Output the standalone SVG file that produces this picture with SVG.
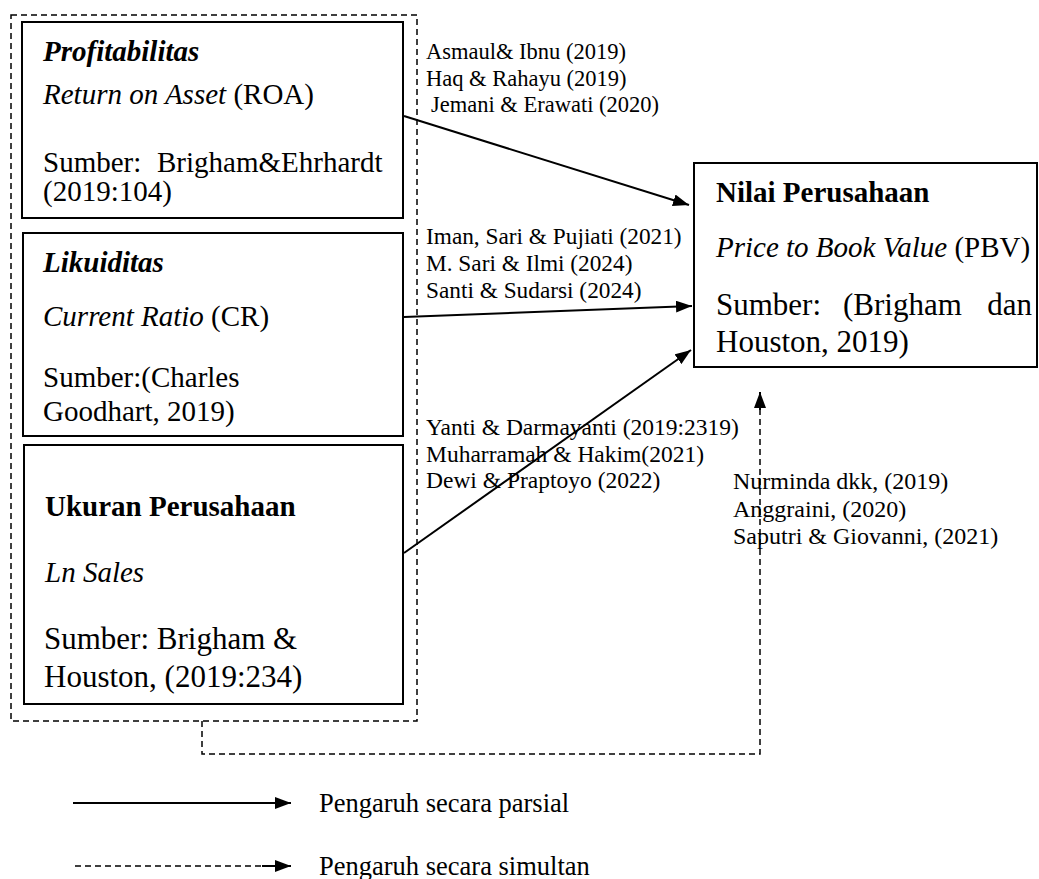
<svg xmlns="http://www.w3.org/2000/svg" width="1039" height="879" viewBox="0 0 1039 879">
<style>
.box{fill:#fff;stroke:#000;stroke-width:2}
.dash{fill:none;stroke:#000;stroke-width:1.5;stroke-dasharray:6 4}
.line{fill:none;stroke:#000;stroke-width:2}
text{font-family:"Liberation Serif","Times New Roman",serif;fill:#000}
.t{font-size:29px}
.s{font-size:31px}
.c1{font-size:22.5px}
.c2{font-size:23.3px}
.c3{font-size:23.5px}
.c4{font-size:24px}
.lg{font-size:26.5px}
.b{font-weight:bold}
.i{font-style:italic}
</style>
<defs>
<marker id="ahl" markerWidth="16" markerHeight="12" refX="16" refY="6" orient="auto" markerUnits="userSpaceOnUse">
<path d="M0,0 L16,6 L0,12 Z" fill="#000"/>
</marker>
</defs>
<rect width="1039" height="879" fill="#fff"/>
<g id="independent-group">
<rect class="dash" x="11" y="15" width="406" height="706"/>
</g>
<g id="profitabilitas">
<rect class="box" x="22" y="22" width="381" height="196"/>
<text class="t b i" x="43" y="61">Profitabilitas</text>
<text class="t" x="43" y="104"><tspan class="i">Return on Asset</tspan> (ROA)</text>
<text class="t" x="43" y="172">Sumber:<tspan x="157">Brigham&amp;Ehrhardt</tspan></text>
<text class="t" x="43" y="201">(2019:104)</text>
</g>
<g id="likuiditas">
<rect class="box" x="23" y="233" width="380" height="203"/>
<text class="t b i" x="43" y="272">Likuiditas</text>
<text class="t" x="43" y="326"><tspan class="i">Current Ratio</tspan> (CR)</text>
<text class="t" x="43" y="387">Sumber:(Charles</text>
<text class="t" x="43" y="421">Goodhart, 2019)</text>
</g>
<g id="ukuran">
<rect class="box" x="24" y="445" width="379" height="259"/>
<text class="t b" x="45" y="516">Ukuran Perusahaan</text>
<text class="t i" x="45" y="582">Ln Sales</text>
<text class="s" x="44" y="649">Sumber: Brigham &amp;</text>
<text class="s" x="44" y="687">Houston, (2019:234)</text>
</g>
<g id="nilai">
<rect class="box" x="694" y="163" width="343" height="204"/>
<text class="t b" x="716" y="202">Nilai Perusahaan</text>
<text class="t" x="716" y="257"><tspan class="i">Price to Book Value</tspan> (PBV)</text>
<text class="s" x="716" y="315">Sumber:</text>
<text class="s" x="843" y="315">(Brigham</text>
<text class="s" x="1032" y="315" text-anchor="end">dan</text>
<text class="s" x="716" y="352">Houston, 2019)</text>
</g>
<g id="connectors">
<line class="line" x1="404" y1="116" x2="689" y2="205" marker-end="url(#ahl)"/>
<line class="line" x1="404" y1="317" x2="692" y2="306" marker-end="url(#ahl)"/>
<line class="line" x1="404" y1="553" x2="691" y2="350" marker-end="url(#ahl)"/>
<path class="dash" d="M202,721 V754 H760 V400"/>
<line class="line" x1="760" y1="410" x2="760" y2="392" marker-end="url(#ahl)"/>
</g>
<g id="citations">
<text class="c1" x="426" y="59">Asmaul&amp; Ibnu (2019)</text>
<text class="c1" x="426" y="86">Haq &amp; Rahayu (2019)</text>
<text class="c1" x="431" y="112">Jemani &amp; Erawati (2020)</text>
<text class="c2" x="426" y="244">Iman, Sari &amp; Pujiati (2021)</text>
<text class="c2" x="426" y="271">M. Sari &amp; Ilmi (2024)</text>
<text class="c2" x="426" y="298">Santi &amp; Sudarsi (2024)</text>
<text class="c3" x="426" y="435">Yanti &amp; Darmayanti (2019:2319)</text>
<text class="c3" x="426" y="462">Muharramah &amp; Hakim(2021)</text>
<text class="c3" x="426" y="488">Dewi &amp; Praptoyo (2022)</text>
<text class="c4" x="733" y="489">Nurminda dkk, (2019)</text>
<text class="c4" x="733" y="517">Anggraini, (2020)</text>
<text class="c4" x="733" y="544">Saputri &amp; Giovanni, (2021)</text>
</g>
<g id="legend">
<line class="line" x1="73" y1="803" x2="291" y2="803" marker-end="url(#ahl)"/>
<text class="lg" x="319" y="812">Pengaruh secara parsial</text>
<path class="dash" d="M75,866 H268"/>
<line class="line" x1="262" y1="866" x2="291" y2="866" marker-end="url(#ahl)"/>
<text class="lg" x="319" y="875">Pengaruh secara simultan</text>
</g>
</svg>
